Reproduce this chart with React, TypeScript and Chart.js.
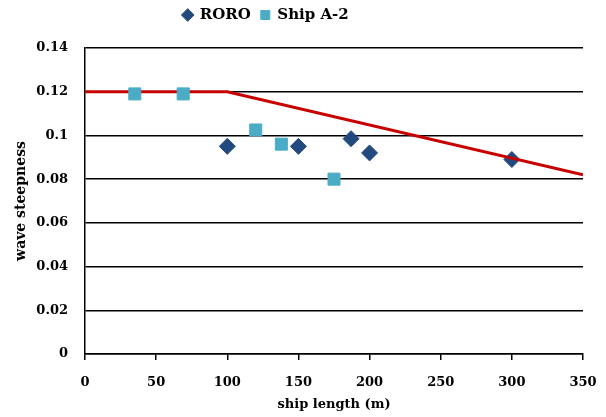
import React, { useEffect, useRef } from "react";
import { Chart, registerables } from "chart.js";

Chart.register(...registerables);

const roroLengths = [100, 150, 187, 200, 300];
const roroSteepness = [0.095, 0.095, 0.0985, 0.092, 0.089];
const shipA2Lengths = [35, 69, 120, 138, 175];
const shipA2Steepness = [0.119, 0.119, 0.1025, 0.096, 0.08];
const limitLengths = [0, 100, 350];
const limitSteepness = [0.12, 0.12, 0.082];
const xTickValues = [0, 50, 100, 150, 200, 250, 300, 350];
const yTickValues = [0, 0.02, 0.04, 0.06, 0.08, 0.1, 0.12, 0.14];
const yTickLabels = ["0", "0.02", "0.04", "0.06", "0.08", "0.1", "0.12", "0.14"];

const FONT = "'DejaVu Serif', serif";

const toPoints = (xs: number[], ys: number[]) => xs.map((x, i) => ({ x, y: ys[i] }));

const legendShift = {
  id: "legendShift",
  afterLayout(chart: any) {
    const lg = chart.legend;
    if (!lg) return;
    lg.left = 0;
    lg.right = 532;
    lg.width = 532;
    lg.top -= 15.5;
    lg.bottom -= 15.5;
  },
};

export default function App() {
  const ref = useRef<HTMLCanvasElement | null>(null);
  useEffect(() => {
    if (!ref.current) return;
    const chart = new Chart(ref.current, {
      type: "scatter",
      data: {
        datasets: [
          {
            label: "RORO",
            data: toPoints(roroLengths, roroSteepness),
            pointStyle: "rectRot",
            pointRadius: 8,
            backgroundColor: "#234A7E",
            borderColor: "#234A7E",
            borderWidth: 1,
            order: 3,
          },
          {
            label: "Ship A-2",
            data: toPoints(shipA2Lengths, shipA2Steepness),
            pointStyle: "rect",
            pointRadius: 8.5,
            backgroundColor: "#4BACC6",
            borderColor: "#4BACC6",
            borderWidth: 1,
            order: 1,
          },
          {
            label: "limit",
            data: toPoints(limitLengths, limitSteepness),
            showLine: true,
            borderColor: "#C80000",
            backgroundColor: "#C80000",
            borderWidth: 3,
            pointRadius: 0,
            order: 2,
          },
        ],
      },
      options: {
        animation: false,
        responsive: false,
        layout: { padding: { top: 13, right: 23, left: 0, bottom: 0 } },
        plugins: {
          tooltip: { enabled: false },
          legend: {
            display: true,
            position: "top",
            labels: {
              usePointStyle: true,
              boxHeight: 9,
              boxWidth: 9,
              padding: 10,
              color: "#000",
              font: { family: FONT, size: 15, weight: "bold" },
              filter: (item: any) => item.text !== "limit",
              sort: (a: any, b: any) => a.datasetIndex - b.datasetIndex,
            },
          },
        },
        scales: {
          x: {
            type: "linear",
            min: 0,
            max: 350,
            afterBuildTicks: (s: any) => {
              s.ticks = xTickValues.map((v) => ({ value: v }));
            },
            afterFit: (s: any) => {
              s.height = 63;
              s.paddingRight = 0;
              s.paddingLeft = 0;
            },
            grid: {
              drawOnChartArea: false,
              drawTicks: true,
              tickLength: 6,
              color: "#000",
              lineWidth: 1.5,
            },
            border: { display: true, color: "#000", width: 1.5 },
            ticks: {
              padding: 15,
              color: "#000",
              maxRotation: 0,
              font: { family: FONT, size: 13, weight: "bold" },
            },
            title: {
              display: true,
              text: "ship length (m)",
              color: "#000",
              font: { family: FONT, size: 13, weight: "bold" },
              padding: { top: 0, bottom: 5 },
            },
          },
          y: {
            type: "linear",
            min: 0,
            max: 0.14,
            afterBuildTicks: (s: any) => {
              s.ticks = yTickValues.map((v) => ({ value: v }));
            },
            afterFit: (s: any) => {
              s.width = 85;
            },
            grid: {
              drawTicks: false,
              color: "#000",
              lineWidth: 1.5,
            },
            border: { display: true, color: "#000", width: 1.5 },
            ticks: {
              padding: 17,
              color: "#000",
              font: { family: FONT, size: 13, weight: "bold" },
              callback: (v: any) => {
                const i = yTickValues.findIndex((t) => Math.abs(t - Number(v)) < 1e-9);
                return i >= 0 ? yTickLabels[i] : "";
              },
            },
            title: {
              display: true,
              text: "wave steepness",
              color: "#000",
              font: { family: FONT, size: 14, weight: "bold" },
              padding: { top: 13, bottom: 0 },
            },
          },
        },
      },
      plugins: [legendShift],
    } as any);
    return () => chart.destroy();
  }, []);
  return (
    <div style={{ position: "absolute", left: 0, top: 0, width: 606, height: 417, background: "#fff" }}>
      <canvas ref={ref} width={606} height={417} style={{ display: "block" }} />
    </div>
  );
}
